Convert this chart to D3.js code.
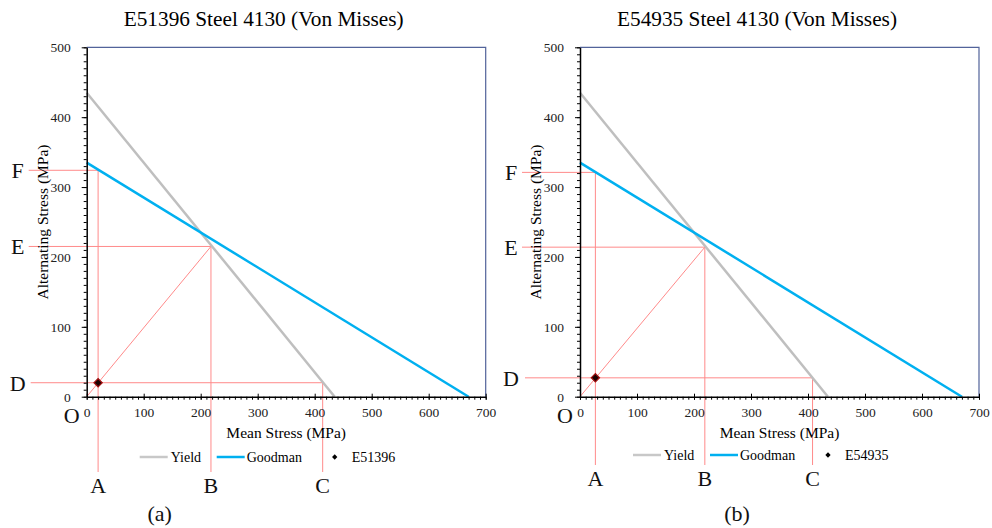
<!DOCTYPE html>
<html>
<head>
<meta charset="utf-8">
<script src="https://cdn.jsdelivr.net/npm/d3@7"></script>
<style>
  body { margin: 0; background: #fff; }
  svg text { font-family: "Liberation Serif", "Times New Roman", serif; }
</style>
</head>
<body>
<svg id="chart" width="992" height="528"></svg>
<script>
// axis ticks (MPa)
const meanTicks = [0, 100, 200, 300, 400, 500, 600, 700];
const altTicks = [0, 100, 200, 300, 400, 500];

// failure lines, same material in both panels
const yieldLine = [[0, 435], [435, 0]];
const goodmanLine = [[0, 335], [670, 0]];

// one entry per panel
const panelTitles = ["E51396 Steel 4130 (Von Misses)", "E54935 Steel 4130 (Von Misses)"];
const sampleNames = ["E51396", "E54935"];
const samplePoints = [[20, 20], [27, 27]];
const panelTags = ["(a)", "(b)"];

// construction values: A/D = sample, F = goodman at A,
// B/E = load line hits yield, C = yield at D
const valA = [20, 27];
const valD = [20, 27];
const valF = [324, 321];
const valB = [218, 219];
const valE = [215, 214];
const valC = [414, 408];

let svg = d3.select("#chart");
let red = "#ff8a8a";
let serif = "Liberation Serif";

let drawPanel = function(i, left, lay) {
  let x = d3.scaleLinear().domain([0, 700]).range([left, left + 399]);
  let y = d3.scaleLinear().domain([0, 500]).range([396.7, 47.3]);
  let g = svg.append("g").attr("font-family", serif);

  // title
  g.append("text")
    .attr("x", left + 177).attr("y", 26)
    .attr("text-anchor", "middle")
    .attr("font-size", 21.3)
    .text(panelTitles[i]);

  // frame top/right
  g.append("path")
    .attr("d", `M${x(0)},${y(500)}H${x(700)}V${y(0)}`)
    .attr("fill", "none")
    .attr("stroke", "#52639a")
    .attr("stroke-width", 1.2);

  // construction lines (drawn under the curves)
  let c = g.append("g").attr("stroke", red).attr("stroke-width", 1).attr("fill", "none");
  let xs = left - 58;
  c.append("line").attr("x1", xs).attr("x2", x(valA[i])).attr("y1", y(valF[i])).attr("y2", y(valF[i]));
  c.append("line").attr("x1", xs).attr("x2", x(valB[i])).attr("y1", y(valE[i])).attr("y2", y(valE[i]));
  c.append("line").attr("x1", xs + lay.dShift).attr("x2", x(valC[i])).attr("y1", y(valD[i])).attr("y2", y(valD[i]));
  c.append("line").attr("x1", x(valA[i])).attr("x2", x(valA[i])).attr("y1", y(valF[i])).attr("y2", lay.vBottom);
  c.append("line").attr("x1", x(valB[i])).attr("x2", x(valB[i])).attr("y1", y(valE[i])).attr("y2", lay.vBottom);
  c.append("line").attr("x1", x(valC[i])).attr("x2", x(valC[i])).attr("y1", y(valD[i])).attr("y2", lay.vBottom);
  c.append("line").attr("x1", x(0)).attr("y1", y(0)).attr("x2", x(valB[i])).attr("y2", y(valE[i]));

  let line = d3.line().x(d => x(d[0])).y(d => y(d[1]));
  g.append("path").datum(yieldLine).attr("d", line)
    .attr("fill", "none").attr("stroke", "#bfbfbf").attr("stroke-width", 2.5);
  g.append("path").datum(goodmanLine).attr("d", line)
    .attr("fill", "none").attr("stroke", "#00b0f0").attr("stroke-width", 2.5);

  // axes
  let minorX = d3.range(0, 701, 10);
  let minorY = d3.range(0, 501, 10);
  let xMinor = g.append("g").attr("transform", `translate(0,${y(0)})`)
    .call(d3.axisBottom(x).tickValues(minorX).tickSize(3).tickFormat(""));
  xMinor.select(".domain").remove();
  let xGroup = g.append("g").attr("transform", `translate(0,${y(0)})`)
    .call(d3.axisBottom(x).tickValues(meanTicks).tickSize(3).tickSizeOuter(0).tickPadding(8));
  xGroup.attr("font-family", serif).attr("font-size", 13.5);
  xGroup.selectAll(".tick line").attr("y1", -3);
  xGroup.selectAll("text").attr("fill", "#222");
  xGroup.select(".domain").attr("stroke-width", 1.5);

  let yMinor = g.append("g").attr("transform", `translate(${x(0)},0)`)
    .call(d3.axisLeft(y).tickValues(minorY).tickSize(3).tickFormat(""));
  yMinor.select(".domain").remove();
  let yGroup = g.append("g").attr("transform", `translate(${x(0)},0)`)
    .call(d3.axisLeft(y).tickValues(altTicks).tickSize(5).tickSizeOuter(0).tickPadding(11));
  yGroup.attr("font-family", serif).attr("font-size", 13.5);
  yGroup.selectAll("text").attr("fill", "#222");
  yGroup.select(".domain").attr("stroke-width", 1.5);

  // axis titles
  g.append("text")
    .attr("x", (x(0) + x(700)) / 2).attr("y", 438)
    .attr("text-anchor", "middle").attr("font-size", 15.5)
    .text("Mean Stress (MPa)");
  g.append("text")
    .attr("transform", `translate(${left - 39},${(y(0) + y(500)) / 2}) rotate(-90)`)
    .attr("text-anchor", "middle").attr("font-size", 15.5)
    .text("Alternating Stress (MPa)");

  // sample point
  g.append("path")
    .attr("d", d3.symbol().type(d3.symbolSquare).size(34)())
    .attr("transform", `translate(${x(samplePoints[i][0])},${y(samplePoints[i][1])}) rotate(45)`)
    .attr("fill", "#1a0000").attr("stroke", "#a01010").attr("stroke-width", 1.2);

  // legend
  let lg = g.append("g").attr("transform", `translate(${left + lay.legX},${lay.legY})`);
  lg.append("line").attr("x1", 0).attr("x2", 28).attr("stroke", "#c8c8c8").attr("stroke-width", 2.5);
  lg.append("text").attr("x", 31).attr("y", 4.5).attr("font-size", 14).text("Yield");
  lg.append("line").attr("x1", 77).attr("x2", 105).attr("stroke", "#00b0f0").attr("stroke-width", 2.5);
  lg.append("text").attr("x", 107).attr("y", 4.5).attr("font-size", 14).text("Goodman");
  lg.append("path").attr("d", d3.symbol().type(d3.symbolSquare).size(14)())
    .attr("transform", "translate(195,0) rotate(45)").attr("fill", "#000");
  lg.append("text").attr("x", 212).attr("y", 4.5).attr("font-size", 14).text(sampleNames[i]);

  // construction letters
  let big = g.append("g").attr("font-size", 22).attr("text-anchor", "middle").attr("fill", "#111");
  let lx = left - 69;
  big.append("text").attr("x", lx).attr("y", y(valF[i]) + 8).text("F");
  big.append("text").attr("x", lx).attr("y", y(valE[i]) + 8).text("E");
  big.append("text").attr("x", lx).attr("y", y(valD[i]) + 8).text("D");
  big.append("text").attr("x", left - 15).attr("y", 423).text("O");
  big.append("text").attr("x", x(valA[i])).attr("y", lay.letY).text("A");
  big.append("text").attr("x", x(valB[i])).attr("y", lay.letY).text("B");
  big.append("text").attr("x", x(valC[i])).attr("y", lay.letY).text("C");
  big.append("text").attr("x", left + lay.tagX).attr("y", 521).text(panelTags[i]);
};

drawPanel(0, 86.7, { vBottom: 472, letY: 493, legX: 53, legY: 457, dShift: 2, tagX: 73 });
drawPanel(1, 580, { vBottom: 465, letY: 486, legX: 53, legY: 455, dShift: 3, tagX: 157 });
</script>
</body>
</html>
